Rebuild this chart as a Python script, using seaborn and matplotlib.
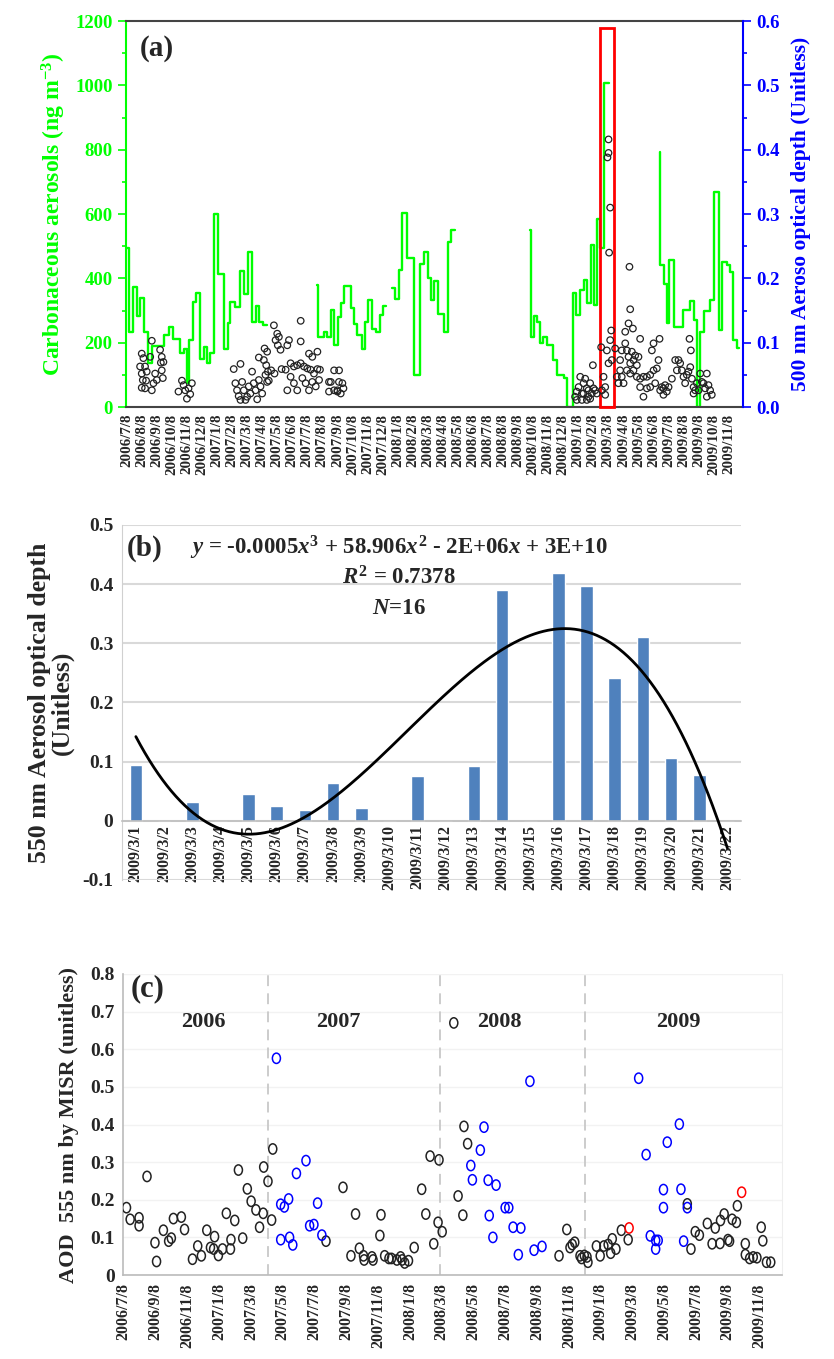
import numpy as np
import pandas as pd
import matplotlib
matplotlib.use('Agg')
import matplotlib.pyplot as plt
import seaborn as sns
from matplotlib.patches import Rectangle
from matplotlib.path import Path

# ---------------- Panel (a) data (x = months since 2006/7/8) ----------------
cc_month = [0.00, 0.16, 0.44, 0.67, 0.89, 1.16, 1.44, 1.71, 2.49, 2.78, 3.07, 3.51, 3.78, 4.00,
            4.11, 4.40, 4.62, 4.89, 5.11, 5.33, 5.56, 5.78, 6.07, 6.49, 6.71, 6.89, 7.22, 7.51,
            7.78, 8.04, 8.33, 8.56, 8.78, 9.07, 9.33,
            12.62, 12.71, 13.11, 13.33, 13.56, 13.78, 14.04, 14.22, 14.44, 14.89, 15.11, 15.33,
            15.60, 15.84, 16.00, 16.27, 16.56, 16.82, 17.00, 17.22,
            17.62, 17.84, 18.11, 18.29, 18.62, 19.07, 19.51, 19.78, 20.00, 20.22, 20.44, 20.67,
            21.11, 21.33, 21.56, 21.82,
            26.82, 26.89, 27.04, 27.27, 27.44, 27.67, 27.91, 28.35, 28.58, 29.02, 29.24, 29.64,
            29.86, 30.13, 30.35, 30.57, 30.83, 31.06, 31.23, 31.46, 31.68, 32.01,
            35.40, 35.44, 35.71, 35.88, 36.06, 36.33, 36.95, 37.44, 37.70, 37.88, 38.10, 38.32,
            38.76, 38.99, 39.32, 39.54, 39.87, 40.09, 40.27, 40.54, 40.71]
cc_value = [493, 232, 374, 284, 338, 232, 136, 191, 224, 250, 211, 169, 180, 74,
            208, 325, 356, 149, 188, 138, 167, 599, 413, 180, 260, 327, 311, 424,
            351, 481, 265, 315, 263, 255, np.nan,
            380, 219, 232, 219, 301, 193, 281, 322, 376, 307, 258, 224,
            180, 265, 333, 244, 234, 286, 315, np.nan,
            369, 336, 426, 602, 462, 99, 444, 483, 400, 333, 392, 289,
            232, 514, 550, np.nan,
            550, 217, 284, 265, 198, 219, 193, 146, 99, 89, 0, 353,
            286, 363, 394, 322, 504, 317, 586, 493, 1008, np.nan,
            794, 441, 383, 260, 458, 250, 302, 331, 270, 0, 234, 297,
            332, 669, 239, 452, 441, 420, 208, 182, np.nan]

aod500_month = [1.00, 1.11, 0.89, 1.22, 1.00, 1.33, 1.07, 1.29, 1.00, 1.22, 1.67, 1.56, 1.78, 1.89,
                1.67, 2.00, 2.22, 2.33, 2.27, 2.44, 2.33, 2.40,
                3.67, 3.78, 3.44, 3.89, 4.11, 4.33, 4.00, 4.22,
                7.11, 7.56, 7.22, 7.33, 7.44, 7.67, 7.78, 7.89, 8.11, 8.22, 8.33, 8.44, 8.56, 8.67,
                8.78, 8.89, 9.00, 7.56, 8.00, 9.22, 9.33, 8.78, 9.16, 9.33, 9.11, 9.27, 9.38, 9.44,
                9.60, 9.82, 9.78, 10.00, 9.89, 10.11, 10.22, 10.04, 10.78, 10.67, 11.56, 11.56,
                10.29, 10.56, 10.89, 11.11, 11.33, 11.56, 11.78, 12.00, 12.22, 12.44, 12.67, 12.84,
                10.67, 10.89, 11.11, 11.33, 11.67, 11.89, 12.11, 12.33, 12.56, 12.78, 12.11, 12.33,
                12.67, 13.44, 13.44, 13.78, 14.00, 14.11, 14.10, 14.33, 13.78, 14.00, 14.22, 14.40,
                13.56,
                29.79, 29.90, 30.02, 30.13, 30.24, 30.35, 30.46, 30.57, 30.68, 30.79, 30.90, 31.01,
                29.90, 30.24, 30.57, 30.79, 30.97, 31.12, 31.23, 30.35, 30.68,
                31.52, 31.68, 31.57, 31.79, 31.90, 32.12, 32.19, 32.23, 32.01, 31.79,
                32.01, 32.01, 31.94, 32.12, 32.05,
                33.40, 33.45, 33.34, 33.12, 33.63, 32.89, 33.12, 33.23, 33.34, 33.45, 33.56, 33.67,
                33.78, 33.89, 34.00, 34.11, 32.78, 32.89, 33.01, 32.67, 32.56, 32.45, 32.78, 33.23,
                33.45, 33.67, 33.89, 34.11, 34.33, 34.56, 34.78, 35.00, 35.22, 35.33, 34.89, 35.00,
                35.40, 34.33, 34.56, 34.78, 35.11, 34.11, 35.44, 35.55, 35.66, 35.77, 35.88, 35.66,
                36.00, 36.22, 36.44, 36.55, 36.66, 36.77, 36.88, 36.99, 37.10, 37.21, 37.32, 37.44,
                37.55, 37.39, 37.48, 37.66, 37.77, 37.88, 37.99, 38.10, 38.21, 38.32, 38.43, 38.54,
                38.65, 38.76, 38.87, 38.54, 37.66]
aod500_value = [0.083, 0.076, 0.063, 0.063, 0.052, 0.055, 0.042, 0.041, 0.030, 0.029, 0.103, 0.078,
                0.037, 0.052, 0.026, 0.042, 0.089, 0.078, 0.069, 0.070, 0.057, 0.045,
                0.041, 0.034, 0.024, 0.026, 0.029, 0.037, 0.013, 0.020,
                0.059, 0.067, 0.037, 0.026, 0.017, 0.039, 0.026, 0.011, 0.032, 0.021, 0.055, 0.037,
                0.026, 0.012, 0.042, 0.032, 0.021, 0.011, 0.016, 0.050, 0.039, 0.077, 0.091, 0.086,
                0.073, 0.065, 0.055, 0.041, 0.057, 0.052, 0.127, 0.114, 0.104, 0.109, 0.089, 0.096,
                0.104, 0.096, 0.134, 0.102, 0.059, 0.058, 0.068, 0.063, 0.065, 0.068, 0.063, 0.060,
                0.058, 0.052, 0.059, 0.058, 0.026, 0.047, 0.037, 0.026, 0.045, 0.037, 0.026, 0.039,
                0.032, 0.042, 0.083, 0.078, 0.086, 0.039, 0.024, 0.057, 0.026, 0.057, 0.039, 0.037,
                0.026, 0.024, 0.021, 0.029, 0.039,
                0.016, 0.024, 0.031, 0.047, 0.021, 0.037, 0.044, 0.029, 0.016, 0.037, 0.021, 0.029,
                0.011, 0.011, 0.011, 0.013, 0.065, 0.026, 0.021, 0.021, 0.026,
                0.093, 0.047, 0.026, 0.019, 0.088, 0.104, 0.119, 0.073, 0.068, 0.031,
                0.416, 0.395, 0.388, 0.310, 0.240,
                0.218, 0.152, 0.130, 0.117, 0.122, 0.088, 0.099, 0.088, 0.078, 0.068, 0.086, 0.073,
                0.080, 0.065, 0.078, 0.106, 0.057, 0.047, 0.037, 0.037, 0.047, 0.091, 0.073, 0.057,
                0.052, 0.057, 0.047, 0.044, 0.047, 0.047, 0.050, 0.057, 0.060, 0.073, 0.088, 0.099,
                0.106, 0.016, 0.029, 0.031, 0.037, 0.031, 0.026, 0.031, 0.029, 0.034, 0.024, 0.019,
                0.031, 0.044, 0.073, 0.057, 0.073, 0.068, 0.057, 0.047, 0.037, 0.050, 0.055, 0.062,
                0.044, 0.106, 0.088, 0.031, 0.026, 0.037, 0.026, 0.052, 0.039, 0.037, 0.029, 0.052,
                0.034, 0.026, 0.019, 0.016, 0.021]

a_tick_labels = [f"{2006 + (6 + i) // 12}/{(6 + i) % 12 + 1}/8" for i in range(41)]

# ---------------- Panel (b) data ----------------
b_dates = [f"2009/3/{d}" for d in range(1, 23)]
b_aod = [0.095, 0, 0.032, 0, 0.045, 0.025, 0.019, 0.064, 0.021, 0, 0.075,
         0, 0.092, 0.390, 0, 0.418, 0.397, 0.242, 0.311, 0.106, 0.077, 0]

# ---------------- Panel (c) data (x = months since 2006/7/8) ----------------
c_black_month = [0.17, 0.40, 0.96, 0.96, 1.46, 1.96, 2.06, 2.49, 2.82, 2.99, 3.12, 3.62, 3.82, 4.32,
                 4.65, 4.88, 5.22, 5.45, 5.71, 5.65, 5.95, 6.21, 6.45, 6.71, 6.74, 6.98, 7.21, 7.48,
                 7.77, 8.01, 8.31, 8.54, 8.77, 8.80, 9.07, 9.30, 9.37,
                 12.72, 13.79, 14.29, 14.58, 14.82, 15.08, 15.12, 15.61, 15.68, 16.11, 16.18, 16.41,
                 16.68, 16.84, 17.18, 17.41, 17.51, 17.67, 17.91, 18.27, 18.74, 19.00, 19.27, 19.50,
                 19.77, 19.83, 20.03, 20.76, 21.03, 21.33, 21.40, 21.63,
                 27.38, 27.87, 28.07, 28.21, 28.37, 28.70, 28.80, 28.97, 29.20, 29.14, 29.73, 29.97,
                 30.20, 30.47, 30.63, 30.73, 30.96, 31.30, 31.73,
                 35.45, 35.68, 35.95, 36.21, 36.71, 37.01, 37.21, 37.51, 37.54, 37.77, 38.01, 38.11,
                 38.27, 38.54, 38.60, 39.10, 39.10, 39.37, 39.60, 39.83, 40.10, 40.20, 40.43, 40.70]
c_black_aod = [0.179, 0.148, 0.152, 0.131, 0.262, 0.086, 0.036, 0.119, 0.090, 0.098, 0.150, 0.154,
               0.121, 0.042, 0.077, 0.051, 0.119, 0.073, 0.102, 0.069, 0.052, 0.069, 0.164, 0.069,
               0.094, 0.145, 0.279, 0.098, 0.229, 0.196, 0.173, 0.127, 0.164, 0.287, 0.249, 0.146,
               0.335,
               0.090, 0.233, 0.051, 0.162, 0.071, 0.051, 0.040, 0.048, 0.040, 0.105, 0.160, 0.051,
               0.044, 0.044, 0.040, 0.048, 0.040, 0.032, 0.038, 0.073, 0.228, 0.162, 0.316, 0.083,
               0.140, 0.306, 0.115, 0.670, 0.210, 0.159, 0.395, 0.349,
               0.051, 0.121, 0.073, 0.081, 0.087, 0.051, 0.044, 0.052, 0.034, 0.048, 0.077, 0.051,
               0.077, 0.081, 0.058, 0.096, 0.069, 0.119, 0.094,
               0.189, 0.069, 0.115, 0.106, 0.137, 0.083, 0.125, 0.084, 0.145, 0.162, 0.094, 0.090,
               0.148, 0.140, 0.184, 0.083, 0.054, 0.044, 0.048, 0.046, 0.127, 0.091, 0.034, 0.034]
c_blue_month = [9.60, 9.87, 10.10, 10.37, 9.87, 10.43, 10.63, 10.86, 11.46, 11.69, 11.96, 12.19, 12.46,
                21.83, 21.93, 22.43, 22.66, 22.92, 22.99, 23.22, 23.42, 23.99, 24.22, 24.49, 24.98,
                24.82, 25.55, 25.81, 26.31,
                32.39, 32.86, 33.12, 33.46, 33.62, 33.46, 33.95, 33.95, 34.19, 34.95, 35.05, 35.22,
                35.45]
c_blue_aod = [0.576, 0.188, 0.181, 0.202, 0.094, 0.100, 0.080, 0.270, 0.304, 0.131, 0.134, 0.191,
              0.106,
              0.291, 0.253, 0.332, 0.393, 0.252, 0.158, 0.100, 0.239, 0.179, 0.179, 0.127, 0.125,
              0.054, 0.515, 0.066, 0.076,
              0.523, 0.320, 0.104, 0.092, 0.092, 0.069, 0.227, 0.179, 0.353, 0.401, 0.228, 0.090,
              0.179]
c_red_month = [31.79, 38.87]
c_red_aod = [0.125, 0.220]

c_year_labels = ["2006", "2007", "2008", "2009"]
c_year_month = [5.0, 13.5, 23.6, 34.9]
c_year_sep = [9.1, 19.9, 29.0]
c_tick_labels = [f"{2006 + (6 + i) // 12}/{(6 + i) % 12 + 1}/8" for i in range(0, 41, 2)]

# ---------------- style ----------------
sns.set_style('white')
plt.rcParams['font.family'] = ['Liberation Serif', 'DejaVu Serif']
plt.rcParams['font.weight'] = 'bold'
plt.rcParams['axes.labelweight'] = 'bold'
plt.rcParams['mathtext.fontset'] = 'custom'
plt.rcParams['mathtext.rm'] = 'Liberation Serif:bold'
plt.rcParams['mathtext.it'] = 'Liberation Serif:italic:bold'
plt.rcParams['mathtext.bf'] = 'Liberation Serif:bold'
plt.rcParams['axes.unicode_minus'] = False

GREEN = '#00ff00'
BLUE = '#0000ff'

fig = plt.figure(figsize=(8.34, 13.59), dpi=100)

# ======================= Panel (a) =======================
ax1 = fig.add_axes([0.151, 0.7005, 0.740, 0.284])
ax2 = ax1.twinx()
ax1.step(cc_month, cc_value, where='post', color=GREEN, lw=1.7, zorder=2)
sns.scatterplot(x=aod500_month, y=aod500_value, ax=ax2, marker='o', s=22,
                facecolor='none', edgecolor='#222222', linewidth=0.9, zorder=3)
ax1.set_xlim(-0.05, 40.95)
ax1.set_ylim(0, 1200)
ax2.set_ylim(0, 0.6)
ax1.set_xticks(range(41))
ax1.set_xticklabels(a_tick_labels, rotation=90, fontsize=10.8, fontweight='bold')
ax1.tick_params(axis='x', direction='out', length=4, width=1, pad=1, color='#333333')
ax1.set_yticks(range(0, 1201, 200))
ax1.set_yticks(range(100, 1200, 200), minor=True)
ax1.tick_params(axis='y', which='both', direction='out', colors=GREEN, width=1.2)
ax1.tick_params(axis='y', which='major', length=6, labelsize=13.5)
ax1.tick_params(axis='y', which='minor', length=3)
for t in ax1.get_yticklabels():
    t.set_fontweight('bold')
ax2.set_yticks(np.arange(0, 0.61, 0.1))
ax2.set_yticklabels([f"{v:.1f}" for v in np.arange(0, 0.61, 0.1)], fontsize=13.5, fontweight='bold')
ax2.set_yticks(np.arange(0.05, 0.6, 0.1), minor=True)
ax2.tick_params(axis='y', which='both', direction='out', colors=BLUE, width=1.2)
ax2.tick_params(axis='y', which='major', length=6)
ax2.tick_params(axis='y', which='minor', length=3)
ax1.spines['left'].set_color(GREEN)
ax1.spines['left'].set_linewidth(1.5)
ax1.spines['right'].set_visible(False)
ax1.spines['top'].set_color('#444444')
ax1.spines['top'].set_linewidth(1.5)
ax1.spines['bottom'].set_color('#444444')
ax1.spines['bottom'].set_linewidth(1.5)
ax2.spines['left'].set_visible(False)
ax2.spines['top'].set_visible(False)
ax2.spines['bottom'].set_visible(False)
ax2.spines['right'].set_color(BLUE)
ax2.spines['right'].set_linewidth(1.5)
ax1.set_ylabel('Carbonaceous aerosols (ng m$^{-3}$)', color=GREEN, fontsize=17, labelpad=5)
ax2.set_ylabel('500 nm Aeroso optical depth (Unitless)', color=BLUE, fontsize=15.5, labelpad=8)
ax2.set_xlabel('')
ax1.text(0.023, 0.965, '(a)', transform=ax1.transAxes, fontsize=21, va='top', ha='left')
ax1.add_patch(Rectangle((31.45, 0), 0.93, 1178, fill=False, edgecolor='red', lw=2,
                        clip_on=False, zorder=5))

# ======================= Panel (b) =======================
axb = fig.add_axes([0.146, 0.3525, 0.743, 0.2612])
sns.barplot(x=b_dates, y=b_aod, color='#4F81BD', saturation=1, width=0.45, ax=axb, zorder=2)
idx = np.arange(len(b_aod))
bvals = np.array(b_aod)
nz = bvals > 0
coef = np.polyfit(idx[nz], bvals[nz], 3)
xs = np.linspace(0, 21, 400)
axb.plot(xs, np.polyval(coef, xs), color='black', lw=2, zorder=3)
axb.set_xlim(-0.5, 21.5)
axb.set_ylim(-0.1, 0.5)
yt = [-0.1, 0, 0.1, 0.2, 0.3, 0.4, 0.5]
axb.set_yticks(yt)
axb.set_yticklabels(['-0.1', '0', '0.1', '0.2', '0.3', '0.4', '0.5'], fontsize=14, fontweight='bold')
axb.yaxis.grid(True, color='#d9d9d9', lw=1.5, zorder=0)
axb.set_axisbelow(True)
axb.spines['bottom'].set_position(('data', 0))
axb.spines['bottom'].set_color('#bfbfbf')
axb.spines['bottom'].set_linewidth(1.2)
axb.spines['left'].set_color('#d0d0d0')
axb.spines['top'].set_visible(False)
axb.spines['right'].set_visible(False)
axb.set_xticks(idx)
axb.set_xticklabels(b_dates, rotation=90, fontsize=11.5, fontweight='bold')
axb.set_xticks(np.arange(-0.5, 22, 1), minor=True)
axb.tick_params(axis='x', which='major', length=0, pad=3)
axb.tick_params(axis='x', which='minor', length=5, color='#bfbfbf', direction='out')
axb.tick_params(axis='y', length=0, pad=6)
axb.set_ylabel('550 nm Aerosol optical depth\n(Unitless)', fontsize=18.5, linespacing=1.0, labelpad=6)
axb.set_xlabel('')
axb.text(0.008, 0.972, '(b)', transform=axb.transAxes, fontsize=21, va='top', ha='left')
axb.text(0.448, 0.935, r'$y$ = -0.0005$x^3$ + 58.906$x^2$ - 2E+06$x$ + 3E+10',
         transform=axb.transAxes, fontsize=16.5, ha='center', va='center')
axb.text(0.448, 0.851, r'$R^2$ = 0.7378', transform=axb.transAxes, fontsize=16.5,
         ha='center', va='center')
axb.text(0.448, 0.766, r'$N$=16', transform=axb.transAxes, fontsize=16.5,
         ha='center', va='center')

# ======================= Panel (c) =======================
axc = fig.add_axes([0.1475, 0.0618, 0.790, 0.2215])
ell = Path.unit_circle()
ell = Path(ell.vertices * np.array([0.78, 1.0]), ell.codes)
sns.scatterplot(x=c_black_month, y=c_black_aod, ax=axc, marker=ell, s=55,
                facecolor='none', edgecolor='#222222', linewidth=1.1, zorder=3)
sns.scatterplot(x=c_blue_month, y=c_blue_aod, ax=axc, marker=ell, s=55,
                facecolor='none', edgecolor=BLUE, linewidth=1.1, zorder=3)
sns.scatterplot(x=c_red_month, y=c_red_aod, ax=axc, marker=ell, s=55,
                facecolor='none', edgecolor='red', linewidth=1.1, zorder=3)
axc.set_xlim(-0.05, 41.4)
axc.set_ylim(0, 0.8)
for m in c_year_sep:
    axc.axvline(m, color='#c8c8c8', lw=1.3, ls=(0, (6, 4)), zorder=1)
for lab, m in zip(c_year_labels, c_year_month):
    axc.text(m, 0.672, lab, fontsize=16, ha='center', va='center')
cy = [0, 0.1, 0.2, 0.3, 0.4, 0.5, 0.6, 0.7, 0.8]
axc.set_yticks(cy)
axc.set_yticklabels(['0', '0.1', '0.2', '0.3', '0.4', '0.5', '0.6', '0.7', '0.8'],
                    fontsize=14, fontweight='bold')
axc.yaxis.grid(True, color='#f2f2f2', lw=1, zorder=0)
axc.set_xticks(range(0, 41, 2))
axc.set_xticklabels(c_tick_labels, rotation=90, fontsize=11.5, fontweight='bold')
axc.tick_params(axis='x', length=4, color='#bbbbbb', direction='out', pad=2)
axc.tick_params(axis='y', length=0, pad=6)
for s in ['left', 'bottom']:
    axc.spines[s].set_color('#bbbbbb')
    axc.spines[s].set_linewidth(1.2)
axc.spines['right'].set_color('#eeeeee')
axc.spines['top'].set_visible(False)
axc.set_ylabel('AOD  555 nm by MISR (unitless)', fontsize=16, labelpad=8)
axc.set_xlabel('')
axc.text(0.011, 1.0, '(c)', transform=axc.transAxes, fontsize=22, va='top', ha='left')

fig.savefig('out.png', dpi=100)
